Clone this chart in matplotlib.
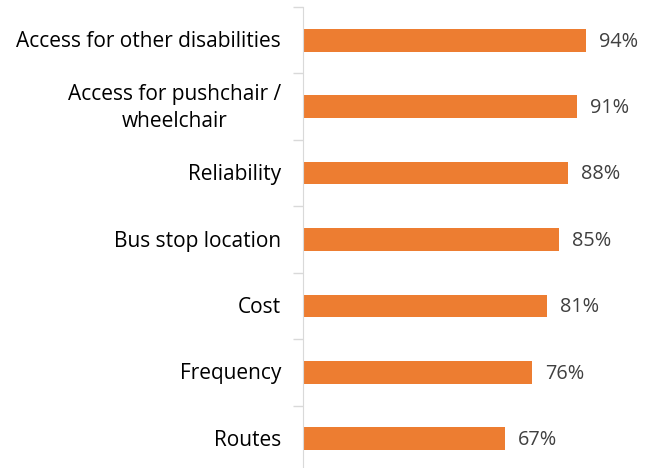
import matplotlib.pyplot as plt

categories = ["Access for other disabilities", "Access for pushchair /\nwheelchair",
              "Reliability", "Bus stop location", "Cost", "Frequency", "Routes"]
values = [94, 91, 88, 85, 81, 76, 67]

plt.rcParams['font.family'] = ['Open Sans', 'DejaVu Sans']

fig = plt.figure(figsize=(6.58, 4.68), dpi=100)
# axes placed in pixel terms: left 304, top 7, bottom ~472, right 634
ax = fig.add_axes([304 / 658, 1 - 472 / 468, 330 / 658, 465 / 468])

ypos = list(range(len(categories)))
ax.barh(ypos, values, height=0.34, color="#ED7D31")
ax.set_ylim(len(categories) - 0.5, -0.5)
ax.set_xlim(0, 110)

for y, v in zip(ypos, values):
    ax.text(v + 4.3, y + 0.02, f"{v}%", va="center", ha="left", fontsize=14.3, color="#404040")

# category labels, drawn as text so the two-line one can be centred
for y, name in zip(ypos, categories):
    ax.annotate(name, xy=(0, y), xycoords=ax.get_yaxis_transform(),
                xytext=(-23, -1.5), textcoords="offset pixels",
                ha="right", va="center", multialignment="center",
                fontsize=15, color="#000000", linespacing=1.35)

ax.set_yticks([y + 0.5 for y in range(-1, len(categories))])
ax.set_yticklabels([])
ax.tick_params(axis="y", length=7, color="#D9D9D9", width=1)
ax.set_xticks([])

for s in ["top", "right", "bottom"]:
    ax.spines[s].set_visible(False)
ax.spines["left"].set_color("#D9D9D9")
ax.spines["left"].set_position(("outward", 1))

fig.savefig("out.png", dpi=100)
